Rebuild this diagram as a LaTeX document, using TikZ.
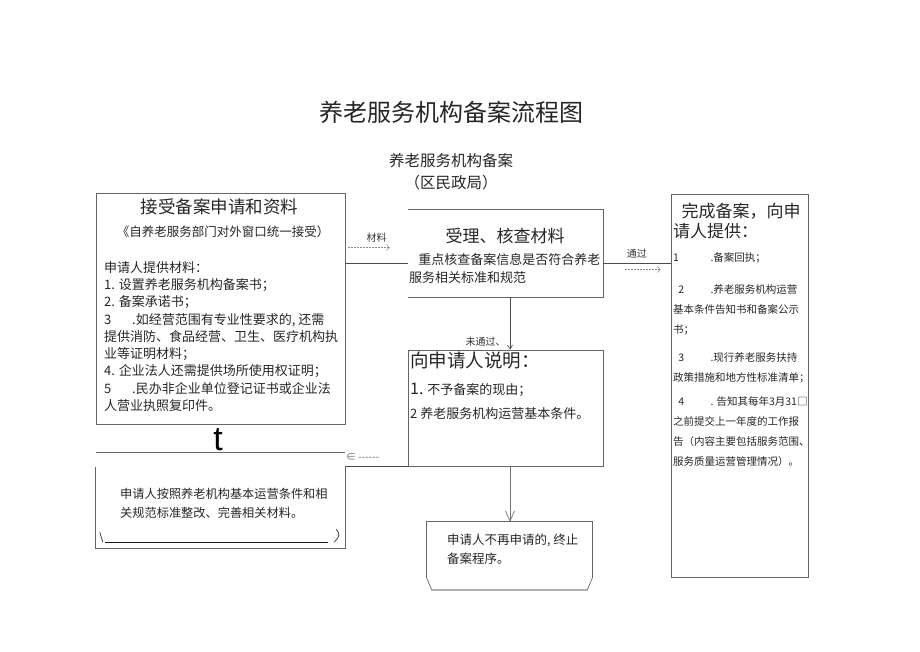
\documentclass[tikz,border=0pt]{standalone}
\usepackage{fontspec}
\setmainfont{Noto Sans CJK SC}
\newfontfamily\arialfont{Liberation Sans}
\usetikzlibrary{arrows.meta}

\begin{document}
\begin{tikzpicture}[x=1pt, y=-1pt,
    box/.style={draw=black!60, line width=0.7pt, rectangle, inner sep=0pt},
    shapebox/.style={rectangle, inner sep=0pt},
    conn/.style={draw=black!70, line width=0.7pt},
    dasharrow/.style={draw=black!45, dash pattern=on 2pt off 1pt, line width=0.5pt, -{Straight Barb[length=3pt,width=6pt]}},
    lbl/.style={font=\fontsize{10}{12}\selectfont, text=black!80, inner sep=0pt},
    txt/.style={anchor=north west, align=left, inner sep=0pt, text=black!85},
  ]
        \useasboundingbox (0,0) rectangle (920,651);

        % Title
        \node[inner sep=0pt, font=\fontsize{24}{28}\selectfont, text=black!85] (title) at (451,112) {养老服务机构备案流程图};
        \node[inner sep=0pt, align=center, font=\fontsize{15.5}{22}\selectfont, text=black!85] (office) at (451,172) {养老服务机构备案\\（区民政局）};

        % Accept application
        \node[box, minimum width=249pt, minimum height=231pt] (accept) at (220.5,308.5) {};
        \node[inner sep=0pt, font=\fontsize{17.5}{20}\selectfont, text=black!85] (accepthead) at (219.5,207) {接受备案申请和资料};
        \node[inner sep=0pt, font=\fontsize{12.5}{14}\selectfont, text=black!85] (acceptsub) at (223,232) {《自养老服务部门对外窗口统一接受）};
        \node[txt, font=\fontsize{13}{17.3}\selectfont] (acceptbody) at (104,261) {申请人提供材料：\\
            1. 设置养老服务机构备案书；\\
            2. 备案承诺书；\\
            3\hspace{1.6em}.如经营范围有专业性要求的, 还需\\
            提供消防、食品经营、卫生、医疗机构执\\
            业等证明材料；\\
            4. 企业法人还需提供场所使用权证明；\\
            5\hspace{1.6em}.民办非企业单位登记证书或企业法\\
            人营业执照复印件。};

        % Check materials
        \node[shapebox, minimum width=195pt, minimum height=87pt] (check) at (505.5,253.5) {};
        \draw[conn, draw=black!60] (check.north west) -- (check.north east) -- (check.south east) -- (check.south west);
        \node[inner sep=0pt, font=\fontsize{17}{20}\selectfont, text=black!85] (checkhead) at (505,236) {受理、核查材料};
        \node[txt, font=\fontsize{13}{18}\selectfont] (checkbody) at (409,253) {\hspace{0.7em}重点核查备案信息是否符合养老\\服务相关标准和规范};

        % Filing done
        \node[box, minimum width=137pt, minimum height=383pt] (done) at (739.5,385.5) {};
        \node[txt, font=\fontsize{17}{20}\selectfont] (donehead) at (673,203) {\hspace{0.5em}完成备案，向申\\请人提供：};
        \node[txt, font=\fontsize{10.5}{19.8}\selectfont] (donebody) at (673,252) {1\hspace{3em}.备案回执；\\[13pt]
            \hspace{0.5em}2\hspace{2.5em}.养老服务机构运营\\
            基本条件告知书和备案公示\\
            书；\\[8pt]
            \hspace{0.5em}3\hspace{2.5em}.现行养老服务扶持\\
            政策措施和地方性标准清单；\\[5pt]
            \hspace{0.5em}4\hspace{2.5em}. 告知其每年3月31□\\
            之前提交上一年度的工作报\\
            告（内容主要包括服务范围、\\
            服务质量运营管理情况）。};

        % Explain to applicant
        \node[box, minimum width=195pt, minimum height=116pt] (explain) at (505.5,408) {};
        \node[txt, font=\fontsize{18.5}{20}\selectfont] (explainhead) at (410,352) {向申请人说明：};
        \node[txt, font=\fontsize{13}{24}\selectfont] (explainbody) at (410,383) {{\fontsize{16}{16}\selectfont 1.} 不予备案的现由；\\2 养老服务机构运营基本条件。};

        % Applicant stops
        \node[shapebox, minimum width=165pt, minimum height=68pt] (stop) at (509.5,556) {};
        \draw[conn, draw=black!60] ([yshift=12pt]stop.south west) -- (stop.north west) -- (stop.north east) -- ([yshift=12pt]stop.south east);
        \draw[conn, draw=black!60] ([yshift=12pt]stop.south west) -- ([xshift=5pt]stop.south west);
        \draw[conn, draw=black!60] ([yshift=12pt]stop.south east) -- ([xshift=-5pt]stop.south east);
        \draw[draw=black!30, line width=1.5pt] ([xshift=5pt]stop.south west) -- ([xshift=-5pt]stop.south east);
        \node[txt, font=\fontsize{12.5}{19}\selectfont] (stopbody) at (447,534) {申请人不再申请的, 终止\\备案程序。};

        % Revise materials
        \node[shapebox, minimum width=249pt, minimum height=95pt] (revise) at (220.5,500.5) {};
        \draw[conn, draw=black!60] (revise.north west) -- (revise.north east);
        \draw[conn, draw=black!60] ([yshift=-14pt]revise.north west) -- (revise.south west) -- (revise.south east) -- ([yshift=-14pt]revise.north east);
        \draw[conn, draw=black!80] ([xshift=4pt,yshift=16pt]revise.south west) -- ([xshift=7pt,yshift=6pt]revise.south west);
        \draw[draw=black!90, line width=0.9pt] ([xshift=9pt,yshift=6pt]revise.south west) -- ([xshift=-17pt,yshift=6pt]revise.south east);
        \draw[conn, draw=black!80] ([xshift=-9pt,yshift=19pt]revise.south east) .. controls ([xshift=-5pt,yshift=13pt]revise.south east) .. ([xshift=-11pt,yshift=6pt]revise.south east);
        \node[inner sep=0pt, font=\arialfont\fontsize{34}{34}\selectfont] (mark) at (218,440) {t};
        \node[txt, font=\fontsize{12.2}{19}\selectfont] (revisebody) at (120,488) {申请人按照养老机构基本运营条件和相\\关规范标准整改、完善相关材料。};

        % Connectors
        \draw[conn] ([yshift=-9.5pt]check.west -| accept.east) -- ([yshift=-9.5pt]check.west)
            node[lbl, midway, above=20pt] {材料};
        \draw[dasharrow] ([xshift=3pt,yshift=6pt]check.west -| accept.east) -- ([xshift=-18pt,yshift=6pt]check.west);

        \draw[conn] ([yshift=-9.5pt]check.east) -- ([yshift=-9.5pt]check.east -| done.west)
            node[lbl, midway, above=4pt] {通过};
        \draw[dasharrow] ([xshift=22pt,yshift=-16pt]check.east) -- ([xshift=-10pt,yshift=-16pt]check.east -| done.west);

        \draw[conn, -{Straight Barb[length=4pt,width=5pt]}] ([xshift=4.5pt]check.south) -- ([xshift=4.5pt]explain.north)
            node[lbl, pos=0.85, left=4pt] {未通过、};

        \draw[conn, draw=black!55, -{Straight Barb[length=10pt,width=9pt]}] ([xshift=4.5pt]explain.south) -- ([xshift=0.5pt]stop.north);

        \draw[conn] (explain.south west) -- (explain.south west -| revise.east);
        \node[lbl, text=black!60, anchor=west] (back) at (346,457) {∈ -{}-{}-{}-{}-{}-};
    \end{tikzpicture}
\end{document}
